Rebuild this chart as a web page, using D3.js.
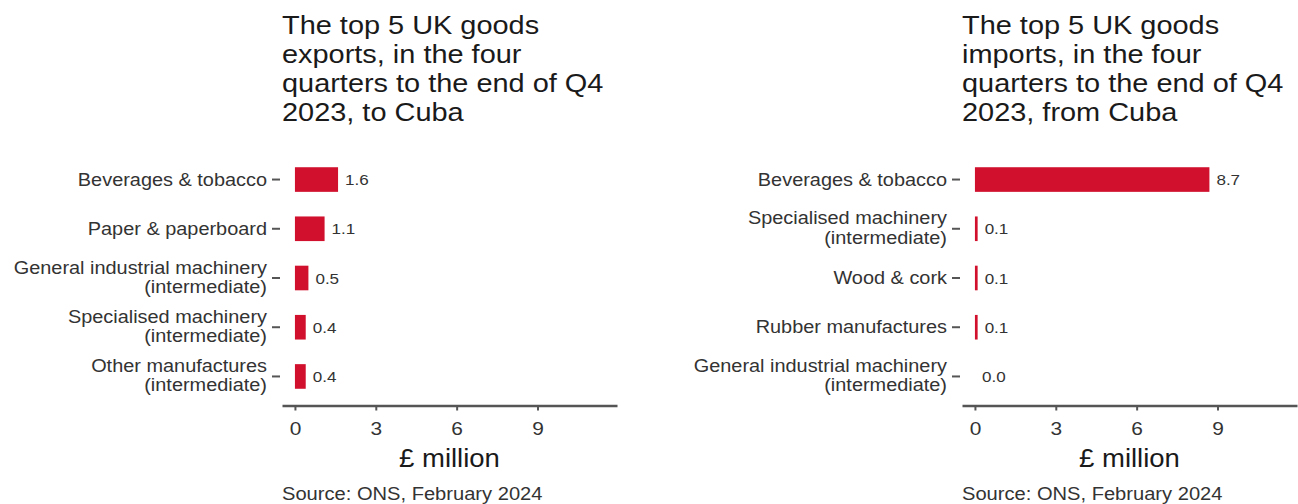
<!DOCTYPE html>
<html>
<head>
<meta charset="utf-8">
<script src="https://cdn.jsdelivr.net/npm/d3@7"></script>
<style>
  html, body { margin: 0; padding: 0; background: #fff; }
  svg text { font-family: "Liberation Sans", Arial, sans-serif; }
</style>
</head>
<body>
<div id="chart"></div>
<script>
// data
const exportCategories = [
  "Beverages & tobacco",
  "Paper & paperboard",
  "General industrial machinery\n(intermediate)",
  "Specialised machinery\n(intermediate)",
  "Other manufactures\n(intermediate)"
];
const exportValues = [1.6, 1.1, 0.5, 0.4, 0.4];

const importCategories = [
  "Beverages & tobacco",
  "Specialised machinery\n(intermediate)",
  "Wood & cork",
  "Rubber manufactures",
  "General industrial machinery\n(intermediate)"
];
const importValues = [8.7, 0.1, 0.1, 0.1, 0.0];

const xTicks = [0, 3, 6, 9];
const exportTitle = ["The top 5 UK goods", "exports, in the four", "quarters to the end of Q4", "2023, to Cuba"];
const importTitle = ["The top 5 UK goods", "imports, in the four", "quarters to the end of Q4", "2023, from Cuba"];
const xLabel = "£ million";
const sourceNote = "Source: ONS, February 2024";

const W = 1298, H = 504;
const SX = 1.1; // the reference glyphs are a bit wider than Liberation Sans
const barColor = "#d0102c";
const axisColor = "#555";

const svg = d3.select("#chart").append("svg")
  .attr("width", W).attr("height", H);

function drawPanel(x0, categories, values, title) {
  const pw = 335;
  const x = d3.scaleLinear().domain([-0.48, 11.95]).range([x0, x0 + pw]);
  const y = d3.scaleBand().domain(categories).range([150, 406])
    .paddingInner(0.5).paddingOuter(0.35);
  const g = svg.append("g");

  // title
  const t = g.append("text")
    .attr("transform", `translate(${x0},33.5) scale(${SX},1)`)
    .attr("font-size", 26.3).attr("fill", "#1a1a1a");
  t.selectAll("tspan").data(title).join("tspan")
    .attr("x", 0).attr("dy", (d, i) => i ? 29.1 : 0).text(d => d);

  // bars
  g.selectAll("rect.bar").data(values).join("rect")
    .attr("class", "bar")
    .attr("x", x(0))
    .attr("y", (d, i) => y(categories[i]))
    .attr("width", d => x(d) - x(0))
    .attr("height", y.bandwidth())
    .attr("fill", barColor);

  // value labels
  g.selectAll("text.val").data(values).join("text")
    .attr("class", "val")
    .attr("transform", (d, i) => `translate(${x(d) + 7},${y(categories[i]) + y.bandwidth() / 2 + 5.5}) scale(${SX},1)`)
    .attr("font-size", 15.5).attr("fill", "#333")
    .text(d => d.toFixed(1));

  // y axis (ticks and labels only)
  const ya = g.append("g")
    .attr("transform", `translate(${x0 - 2},0)`)
    .call(d3.axisLeft(y).tickSize(8).tickPadding(5));
  ya.select(".domain").remove();
  ya.selectAll(".tick line").attr("stroke", axisColor).attr("stroke-width", 2);
  ya.selectAll(".tick text").each(function(d) {
    const lines = d.split("\n");
    const el = d3.select(this)
      .attr("x", null).attr("dy", null).attr("y", null)
      .attr("font-size", 18.1).attr("fill", "#333").attr("font-family", null)
      .attr("transform", `translate(-13,0) scale(${SX},1)`)
      .text(null);
    const off = lines.length === 1 ? [6] : [-4.5, 15];
    lines.forEach((s, i) => el.append("tspan").attr("x", 0).attr("y", off[i]).text(s));
  });

  // x axis
  const xa = g.append("g")
    .attr("transform", "translate(0,405.5)")
    .call(d3.axisBottom(x).tickValues(xTicks).tickSize(5).tickSizeOuter(0));
  xa.select(".domain").attr("stroke", axisColor).attr("stroke-width", 2.5);
  xa.selectAll(".tick line").attr("stroke", axisColor).attr("stroke-width", 2);
  xa.selectAll(".tick text")
    .attr("y", null).attr("dy", null)
    .attr("transform", `translate(0,29.5) scale(${SX},1)`)
    .attr("font-size", 19).attr("fill", "#333").attr("font-family", null);

  // axis title
  g.append("text")
    .attr("transform", `translate(${x0 + pw / 2},467) scale(${SX},1)`)
    .attr("text-anchor", "middle")
    .attr("font-size", 25).attr("fill", "#1a1a1a")
    .text(xLabel);

  // source
  g.append("text")
    .attr("transform", `translate(${x0},500) scale(${SX},1)`)
    .attr("font-size", 18.3).attr("fill", "#333")
    .text(sourceNote);
}

drawPanel(282, exportCategories, exportValues, exportTitle);
drawPanel(962, importCategories, importValues, importTitle);
</script>
</body>
</html>
